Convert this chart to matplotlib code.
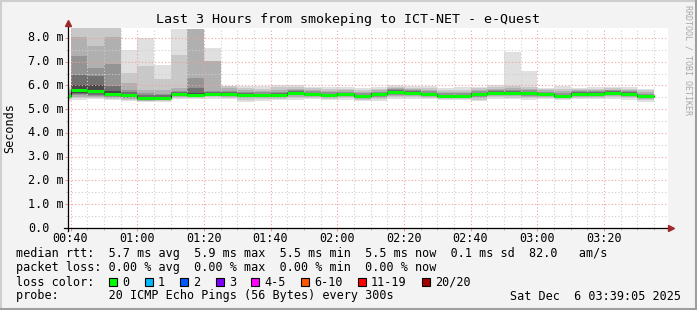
import numpy as np
import pandas as pd
import matplotlib
matplotlib.use("Agg")
import matplotlib.pyplot as plt
import matplotlib.dates as mdates
import matplotlib.transforms as mtransforms
from matplotlib.lines import Line2D
from matplotlib.patches import Rectangle

MONO = "DejaVu Sans Mono"
W, H = 697, 310

title = "Last 3 Hours from smokeping to ICT-NET - e-Quest"
t_start = pd.Timestamp("2025-12-06 00:39:05")
t_end = pd.Timestamp("2025-12-06 03:39:05")
slot_start = pd.date_range("2025-12-06 00:35", periods=36, freq="5min")

# median rtt per 5 min step (ms)
median_rtt = [5.56, 5.80, 5.75, 5.65, 5.58, 5.47, 5.49, 5.63, 5.62, 5.66,
              5.64, 5.60, 5.60, 5.60, 5.70, 5.64, 5.60, 5.64, 5.56, 5.64,
              5.74, 5.70, 5.64, 5.56, 5.56, 5.64, 5.70, 5.70, 5.68, 5.64,
              5.56, 5.66, 5.66, 5.70, 5.66, 5.54]

# smoke band edges, outer -> inner (ms)
smoke_low = [
    [5.36, 5.42, 5.46, 5.50, 5.52, 5.54],
    [5.40, 5.47, 5.52, 5.58, 5.64, 5.70],
    [5.42, 5.47, 5.52, 5.57, 5.62, 5.68],
    [5.38, 5.43, 5.47, 5.52, 5.56, 5.60],
    [5.35, 5.40, 5.44, 5.48, 5.51, 5.54],
    [5.30, 5.33, 5.36, 5.39, 5.41, 5.43],
    [5.32, 5.35, 5.38, 5.41, 5.43, 5.45],
    [5.42, 5.46, 5.50, 5.54, 5.57, 5.59],
    [5.42, 5.46, 5.50, 5.54, 5.57, 5.59],
    [5.45, 5.50, 5.54, 5.58, 5.61, 5.63],
    [5.42, 5.47, 5.51, 5.55, 5.58, 5.61],
    [5.32, 5.40, 5.46, 5.51, 5.54, 5.57],
    [5.36, 5.42, 5.47, 5.51, 5.54, 5.57],
    [5.40, 5.45, 5.49, 5.53, 5.55, 5.57],
    [5.40, 5.47, 5.53, 5.59, 5.63, 5.67],
    [5.42, 5.47, 5.51, 5.55, 5.58, 5.61],
    [5.38, 5.44, 5.48, 5.52, 5.55, 5.57],
    [5.40, 5.46, 5.51, 5.55, 5.58, 5.61],
    [5.33, 5.38, 5.43, 5.47, 5.50, 5.53],
    [5.36, 5.42, 5.48, 5.53, 5.58, 5.61],
    [5.44, 5.50, 5.56, 5.62, 5.67, 5.71],
    [5.44, 5.50, 5.55, 5.60, 5.64, 5.67],
    [5.42, 5.48, 5.52, 5.56, 5.59, 5.61],
    [5.40, 5.44, 5.47, 5.50, 5.52, 5.53],
    [5.38, 5.43, 5.46, 5.49, 5.51, 5.53],
    [5.34, 5.40, 5.46, 5.52, 5.58, 5.61],
    [5.44, 5.50, 5.55, 5.60, 5.64, 5.67],
    [5.42, 5.48, 5.54, 5.59, 5.63, 5.67],
    [5.40, 5.46, 5.52, 5.57, 5.62, 5.65],
    [5.42, 5.48, 5.52, 5.56, 5.59, 5.61],
    [5.40, 5.45, 5.48, 5.51, 5.52, 5.53],
    [5.42, 5.48, 5.53, 5.57, 5.61, 5.63],
    [5.42, 5.48, 5.53, 5.57, 5.61, 5.63],
    [5.44, 5.50, 5.55, 5.60, 5.64, 5.67],
    [5.40, 5.46, 5.52, 5.57, 5.61, 5.63],
    [5.32, 5.37, 5.42, 5.46, 5.49, 5.51],
]
smoke_high = [
    [5.95, 5.85, 5.76, 5.68, 5.62, 5.58],
    [8.60, 8.60, 8.05, 7.24, 6.45, 6.00],
    [8.60, 8.60, 7.66, 6.75, 6.40, 6.00],
    [8.60, 8.60, 8.05, 6.92, 5.98, 5.78],
    [7.49, 6.54, 6.10, 5.81, 5.72, 5.64],
    [7.99, 6.84, 5.81, 5.68, 5.58, 5.52],
    [6.86, 6.27, 5.81, 5.65, 5.58, 5.53],
    [8.38, 7.28, 5.90, 5.78, 5.72, 5.67],
    [8.38, 8.38, 8.36, 6.31, 5.90, 5.70],
    [7.59, 7.03, 7.01, 5.78, 5.73, 5.69],
    [5.98, 5.97, 5.88, 5.78, 5.72, 5.67],
    [5.98, 5.88, 5.79, 5.72, 5.67, 5.63],
    [5.96, 5.87, 5.78, 5.71, 5.66, 5.63],
    [6.02, 5.93, 5.83, 5.74, 5.67, 5.63],
    [6.00, 5.94, 5.87, 5.81, 5.76, 5.73],
    [5.94, 5.88, 5.81, 5.75, 5.70, 5.67],
    [5.93, 5.86, 5.78, 5.71, 5.66, 5.63],
    [5.92, 5.87, 5.80, 5.74, 5.69, 5.67],
    [5.90, 5.82, 5.74, 5.67, 5.62, 5.59],
    [5.93, 5.87, 5.80, 5.74, 5.69, 5.67],
    [6.00, 5.95, 5.89, 5.84, 5.80, 5.77],
    [5.98, 5.91, 5.85, 5.80, 5.76, 5.73],
    [5.96, 5.89, 5.81, 5.75, 5.70, 5.67],
    [5.88, 5.81, 5.73, 5.67, 5.62, 5.59],
    [5.92, 5.83, 5.74, 5.67, 5.62, 5.59],
    [5.95, 5.89, 5.81, 5.75, 5.70, 5.67],
    [6.02, 5.95, 5.87, 5.81, 5.76, 5.73],
    [7.42, 5.98, 5.90, 5.82, 5.76, 5.73],
    [6.63, 5.94, 5.86, 5.80, 5.74, 5.71],
    [5.90, 5.85, 5.79, 5.74, 5.70, 5.67],
    [5.96, 5.85, 5.75, 5.67, 5.62, 5.59],
    [5.90, 5.85, 5.80, 5.75, 5.71, 5.69],
    [5.94, 5.87, 5.80, 5.75, 5.71, 5.69],
    [5.94, 5.89, 5.83, 5.79, 5.75, 5.73],
    [5.92, 5.86, 5.80, 5.75, 5.71, 5.69],
    [5.86, 5.79, 5.71, 5.65, 5.60, 5.57],
]
shades = ["#e0e0e0", "#c8c8c8", "#b0b0b0", "#949494", "#707070", "#484848"]

y_ticks = [0, 1, 2, 3, 4, 5, 6, 7, 8]
y_labels = ["0.0", "1.0 m", "2.0 m", "3.0 m", "4.0 m", "5.0 m", "6.0 m", "7.0 m", "8.0 m"]
y_top = 8.42

legend_rtt = "median rtt:  5.7 ms avg  5.9 ms max  5.5 ms min  5.5 ms now  0.1 ms sd  82.0   am/s"
legend_loss = "packet loss: 0.00 % avg  0.00 % max  0.00 % min  0.00 % now"
loss_labels = ["0", "1", "2", "3", "4-5", "6-10", "11-19", "20/20"]
loss_colors = ["#00ff00", "#00b8ff", "#0059ff", "#7e00ff", "#ff00ff", "#ff5500", "#ff0000", "#a10000"]
legend_probe = "probe:       20 ICMP Echo Pings (56 Bytes) every 300s"
stamp = "Sat Dec  6 03:39:05 2025"

fig = plt.figure(figsize=(W / 100, H / 100), dpi=100, facecolor="#f3f3f3")
ax = fig.add_axes([67.5 / W, (H - 228) / H, 600 / W, 200 / H])
ax.set_facecolor("white")

x = mdates.date2num(slot_start.to_pydatetime())
step = 5 / 1440
lo = np.array(smoke_low)
hi = np.array(smoke_high)
for k in range(len(shades)):
    ax.bar(x, hi[:, k] - lo[:, k], bottom=lo[:, k], width=step, align="edge",
           color=shades[k], linewidth=0, zorder=1)

med = np.array(median_rtt)
ax.step(np.append(x, x[-1] + step), np.append(med, med[-1]), where="post",
        color="#202020", lw=0.8, zorder=4)
ax.hlines(med, x, x + step, color="#00ff00", lw=2.2, zorder=5)

ax.set_xlim(mdates.date2num(t_start.to_pydatetime()), mdates.date2num(t_end.to_pydatetime()))
ax.set_ylim(0, y_top)

ax.xaxis.set_major_locator(mdates.MinuteLocator(byminute=[0, 20, 40]))
ax.xaxis.set_minor_locator(mdates.MinuteLocator(byminute=range(0, 60, 5)))
ax.xaxis.set_major_formatter(mdates.DateFormatter("%H:%M"))
ax.set_yticks(y_ticks)
ax.set_yticklabels([])
ax.set_yticks(np.arange(0.5, 8.5, 1.0), minor=True)

ax.set_axisbelow(False)
ax.grid(which="minor", color="#cfcfcf", ls=(0, (1, 2)), lw=0.8)
ax.grid(which="major", color="#f0a0a0", ls=(0, (1, 2)), lw=0.8)
for g in ax.get_xgridlines() + ax.get_ygridlines():
    g.set_zorder(3)

ax.tick_params(which="major", length=2, width=0.7, color="#e09090", labelsize=8.5)
ax.tick_params(axis="x", which="major", pad=0.8)
ax.tick_params(which="minor", length=1.5, width=0.7, color="#bbbbbb")
for lab in ax.get_xticklabels():
    lab.set_family(MONO)

# y labels left aligned at a fixed column, like rrdtool
ylab_tr = mtransforms.blended_transform_factory(fig.transFigure, ax.transData)
for v, s in zip(y_ticks, y_labels):
    fig.text(28 / W, v, s, transform=ylab_tr, ha="left", va="center",
             fontsize=8.5, family=MONO)

for s in ax.spines.values():
    s.set_visible(False)

# axis lines with arrows like rrdtool
ax.plot([-0.006, 1.006], [0, 0], transform=ax.transAxes, color="black", lw=0.9,
        clip_on=False, zorder=6)
ax.plot([0, 0], [-0.015, 1.02], transform=ax.transAxes, color="black", lw=0.9,
        clip_on=False, zorder=6)
ax.plot([1.006], [0], marker=">", ms=4, color="#a02828", transform=ax.transAxes,
        clip_on=False, zorder=7)
ax.plot([0], [1.025], marker="^", ms=4, color="#a02828", transform=ax.transAxes,
        clip_on=False, zorder=7)

# frame shading
fig.add_artist(Line2D([0, 1], [1 - 1 / H, 1 - 1 / H], color="#cecece", lw=1.5))
fig.add_artist(Line2D([1 / W, 1 / W], [0, 1], color="#cecece", lw=1.5))
fig.add_artist(Line2D([0, 1], [1 / H, 1 / H], color="#9e9e9e", lw=1.5))
fig.add_artist(Line2D([1 - 1 / W, 1 - 1 / W], [0, 1], color="#9e9e9e", lw=1.5))

fig.text(347.5 / W, 1 - 19 / H, title, ha="center", va="center", fontsize=9.6, family=MONO)
fig.text(10 / W, 1 - 128 / H, "Seconds", rotation=90, ha="center", va="center",
         fontsize=8.5, family=MONO)
fig.text(688 / W, 1 - 60 / H, "RRDTOOL / TOBI OETIKER", rotation=270, ha="center",
         va="center", fontsize=6, family=MONO, color="#a8a8a8")

cw = 7.1
fig.text(16 / W, 1 - 254 / H, legend_rtt, va="center", fontsize=8.5, family=MONO)
fig.text(16 / W, 1 - 268 / H, legend_loss, va="center", fontsize=8.5, family=MONO)
fig.text(16 / W, 1 - 282 / H, "loss color:", va="center", fontsize=8.5, family=MONO)
col = 13
for lab, c in zip(loss_labels, loss_colors):
    bx = 16 + col * cw + 1
    fig.add_artist(Rectangle((bx / W, (H - 286) / H), 8 / W, 8 / H, facecolor=c,
                             edgecolor="black", lw=0.8, transform=fig.transFigure))
    fig.text((16 + (col + 2) * cw) / W, 1 - 282 / H, lab, va="center", fontsize=8.5,
             family=MONO)
    col += 2 + len(lab) + 2
fig.text(16 / W, 1 - 296 / H, legend_probe, va="center", fontsize=8.5, family=MONO)
fig.text(681 / W, 1 - 296 / H, stamp, ha="right", va="center", fontsize=8.5, family=MONO)

fig.savefig("out.png", dpi=100, facecolor=fig.get_facecolor())
plt.close(fig)
